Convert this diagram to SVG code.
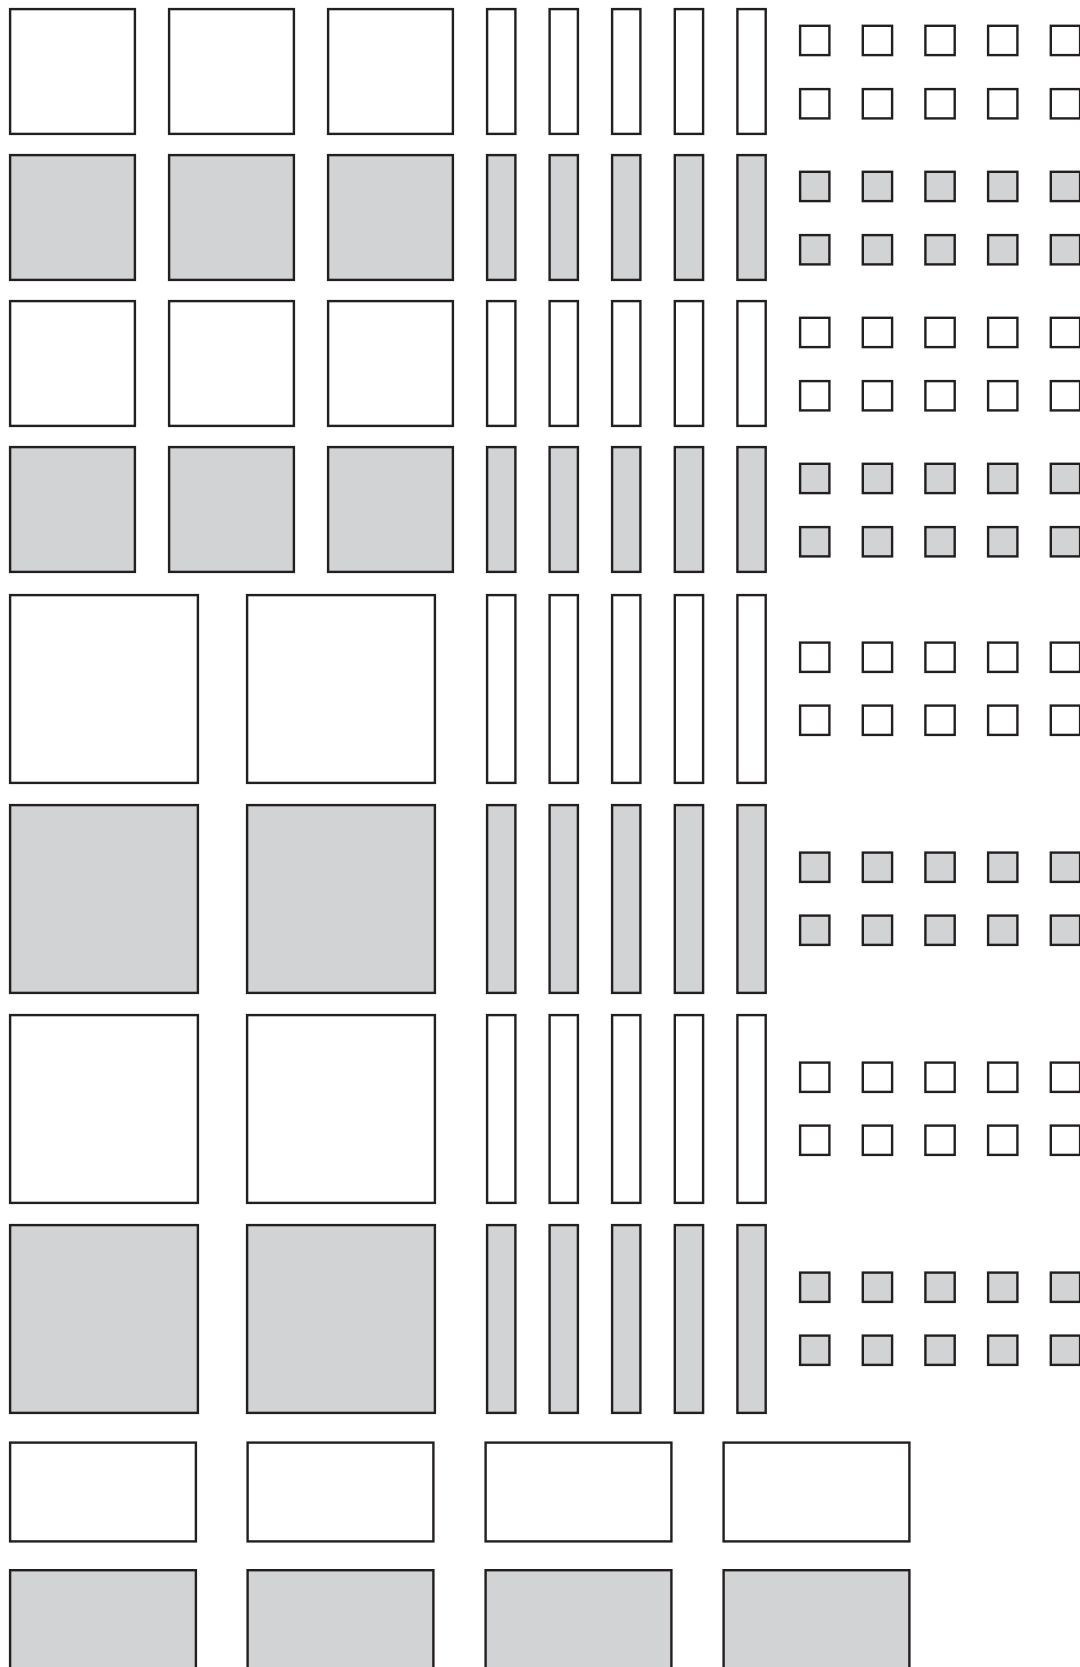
<svg xmlns="http://www.w3.org/2000/svg" width="1080" height="1667" viewBox="0 0 1080 1667">
<style>
.w rect,.g rect{stroke:#231f20;stroke-width:2.4}
.w{fill:#ffffff}
.g{fill:#d1d3d4}
</style>
<rect x="0" y="0" width="1080" height="1667" fill="#ffffff"/>
<g id="top-section">
<g id="row1" class="w">
<rect x="10.1" y="9.1" width="124.8" height="124.8"/><rect x="169.1" y="9.1" width="124.8" height="124.8"/><rect x="328.1" y="9.1" width="124.8" height="124.8"/>
<rect x="487.1" y="9.1" width="28.3" height="124.8"/><rect x="549.6" y="9.1" width="28.3" height="124.8"/><rect x="612.1" y="9.1" width="28.3" height="124.8"/><rect x="674.8" y="9.1" width="28.3" height="124.8"/><rect x="737.4" y="9.1" width="28.3" height="124.8"/>
<rect x="800.1" y="25.8" width="29.3" height="29.3"/><rect x="862.8" y="25.8" width="29.3" height="29.3"/><rect x="925.4" y="25.8" width="29.3" height="29.3"/><rect x="988.1" y="25.8" width="29.3" height="29.3"/><rect x="1050.8" y="25.8" width="29.3" height="29.3"/>
<rect x="800.1" y="89.1" width="29.3" height="29.3"/><rect x="862.8" y="89.1" width="29.3" height="29.3"/><rect x="925.4" y="89.1" width="29.3" height="29.3"/><rect x="988.1" y="89.1" width="29.3" height="29.3"/><rect x="1050.8" y="89.1" width="29.3" height="29.3"/>
</g>
<g id="row2" class="g">
<rect x="10.1" y="155.1" width="124.8" height="124.8"/><rect x="169.1" y="155.1" width="124.8" height="124.8"/><rect x="328.1" y="155.1" width="124.8" height="124.8"/>
<rect x="487.1" y="155.1" width="28.3" height="124.8"/><rect x="549.6" y="155.1" width="28.3" height="124.8"/><rect x="612.1" y="155.1" width="28.3" height="124.8"/><rect x="674.8" y="155.1" width="28.3" height="124.8"/><rect x="737.4" y="155.1" width="28.3" height="124.8"/>
<rect x="800.1" y="171.8" width="29.3" height="29.3"/><rect x="862.8" y="171.8" width="29.3" height="29.3"/><rect x="925.4" y="171.8" width="29.3" height="29.3"/><rect x="988.1" y="171.8" width="29.3" height="29.3"/><rect x="1050.8" y="171.8" width="29.3" height="29.3"/>
<rect x="800.1" y="235.1" width="29.3" height="29.3"/><rect x="862.8" y="235.1" width="29.3" height="29.3"/><rect x="925.4" y="235.1" width="29.3" height="29.3"/><rect x="988.1" y="235.1" width="29.3" height="29.3"/><rect x="1050.8" y="235.1" width="29.3" height="29.3"/>
</g>
<g id="row3" class="w">
<rect x="10.1" y="301.1" width="124.8" height="124.8"/><rect x="169.1" y="301.1" width="124.8" height="124.8"/><rect x="328.1" y="301.1" width="124.8" height="124.8"/>
<rect x="487.1" y="301.1" width="28.3" height="124.8"/><rect x="549.6" y="301.1" width="28.3" height="124.8"/><rect x="612.1" y="301.1" width="28.3" height="124.8"/><rect x="674.8" y="301.1" width="28.3" height="124.8"/><rect x="737.4" y="301.1" width="28.3" height="124.8"/>
<rect x="800.1" y="317.8" width="29.3" height="29.3"/><rect x="862.8" y="317.8" width="29.3" height="29.3"/><rect x="925.4" y="317.8" width="29.3" height="29.3"/><rect x="988.1" y="317.8" width="29.3" height="29.3"/><rect x="1050.8" y="317.8" width="29.3" height="29.3"/>
<rect x="800.1" y="381.1" width="29.3" height="29.3"/><rect x="862.8" y="381.1" width="29.3" height="29.3"/><rect x="925.4" y="381.1" width="29.3" height="29.3"/><rect x="988.1" y="381.1" width="29.3" height="29.3"/><rect x="1050.8" y="381.1" width="29.3" height="29.3"/>
</g>
<g id="row4" class="g">
<rect x="10.1" y="447.1" width="124.8" height="124.8"/><rect x="169.1" y="447.1" width="124.8" height="124.8"/><rect x="328.1" y="447.1" width="124.8" height="124.8"/>
<rect x="487.1" y="447.1" width="28.3" height="124.8"/><rect x="549.6" y="447.1" width="28.3" height="124.8"/><rect x="612.1" y="447.1" width="28.3" height="124.8"/><rect x="674.8" y="447.1" width="28.3" height="124.8"/><rect x="737.4" y="447.1" width="28.3" height="124.8"/>
<rect x="800.1" y="463.8" width="29.3" height="29.3"/><rect x="862.8" y="463.8" width="29.3" height="29.3"/><rect x="925.4" y="463.8" width="29.3" height="29.3"/><rect x="988.1" y="463.8" width="29.3" height="29.3"/><rect x="1050.8" y="463.8" width="29.3" height="29.3"/>
<rect x="800.1" y="527.1" width="29.3" height="29.3"/><rect x="862.8" y="527.1" width="29.3" height="29.3"/><rect x="925.4" y="527.1" width="29.3" height="29.3"/><rect x="988.1" y="527.1" width="29.3" height="29.3"/><rect x="1050.8" y="527.1" width="29.3" height="29.3"/>
</g>
</g>
<g id="big-section">
<g id="row5" class="w">
<rect x="10.1" y="595.1" width="187.8" height="187.8"/><rect x="247.1" y="595.1" width="187.8" height="187.8"/>
<rect x="487.1" y="595.1" width="28.3" height="187.8"/><rect x="549.6" y="595.1" width="28.3" height="187.8"/><rect x="612.1" y="595.1" width="28.3" height="187.8"/><rect x="674.8" y="595.1" width="28.3" height="187.8"/><rect x="737.4" y="595.1" width="28.3" height="187.8"/>
<rect x="800.1" y="642.6" width="29.3" height="29.3"/><rect x="862.8" y="642.6" width="29.3" height="29.3"/><rect x="925.4" y="642.6" width="29.3" height="29.3"/><rect x="988.1" y="642.6" width="29.3" height="29.3"/><rect x="1050.8" y="642.6" width="29.3" height="29.3"/>
<rect x="800.1" y="705.6" width="29.3" height="29.3"/><rect x="862.8" y="705.6" width="29.3" height="29.3"/><rect x="925.4" y="705.6" width="29.3" height="29.3"/><rect x="988.1" y="705.6" width="29.3" height="29.3"/><rect x="1050.8" y="705.6" width="29.3" height="29.3"/>
</g>
<g id="row6" class="g">
<rect x="10.1" y="805.1" width="187.8" height="187.8"/><rect x="247.1" y="805.1" width="187.8" height="187.8"/>
<rect x="487.1" y="805.1" width="28.3" height="187.8"/><rect x="549.6" y="805.1" width="28.3" height="187.8"/><rect x="612.1" y="805.1" width="28.3" height="187.8"/><rect x="674.8" y="805.1" width="28.3" height="187.8"/><rect x="737.4" y="805.1" width="28.3" height="187.8"/>
<rect x="800.1" y="852.6" width="29.3" height="29.3"/><rect x="862.8" y="852.6" width="29.3" height="29.3"/><rect x="925.4" y="852.6" width="29.3" height="29.3"/><rect x="988.1" y="852.6" width="29.3" height="29.3"/><rect x="1050.8" y="852.6" width="29.3" height="29.3"/>
<rect x="800.1" y="915.6" width="29.3" height="29.3"/><rect x="862.8" y="915.6" width="29.3" height="29.3"/><rect x="925.4" y="915.6" width="29.3" height="29.3"/><rect x="988.1" y="915.6" width="29.3" height="29.3"/><rect x="1050.8" y="915.6" width="29.3" height="29.3"/>
</g>
<g id="row7" class="w">
<rect x="10.1" y="1015.1" width="187.8" height="187.8"/><rect x="247.1" y="1015.1" width="187.8" height="187.8"/>
<rect x="487.1" y="1015.1" width="28.3" height="187.8"/><rect x="549.6" y="1015.1" width="28.3" height="187.8"/><rect x="612.1" y="1015.1" width="28.3" height="187.8"/><rect x="674.8" y="1015.1" width="28.3" height="187.8"/><rect x="737.4" y="1015.1" width="28.3" height="187.8"/>
<rect x="800.1" y="1062.6" width="29.3" height="29.3"/><rect x="862.8" y="1062.6" width="29.3" height="29.3"/><rect x="925.4" y="1062.6" width="29.3" height="29.3"/><rect x="988.1" y="1062.6" width="29.3" height="29.3"/><rect x="1050.8" y="1062.6" width="29.3" height="29.3"/>
<rect x="800.1" y="1125.6" width="29.3" height="29.3"/><rect x="862.8" y="1125.6" width="29.3" height="29.3"/><rect x="925.4" y="1125.6" width="29.3" height="29.3"/><rect x="988.1" y="1125.6" width="29.3" height="29.3"/><rect x="1050.8" y="1125.6" width="29.3" height="29.3"/>
</g>
<g id="row8" class="g">
<rect x="10.1" y="1225.1" width="187.8" height="187.8"/><rect x="247.1" y="1225.1" width="187.8" height="187.8"/>
<rect x="487.1" y="1225.1" width="28.3" height="187.8"/><rect x="549.6" y="1225.1" width="28.3" height="187.8"/><rect x="612.1" y="1225.1" width="28.3" height="187.8"/><rect x="674.8" y="1225.1" width="28.3" height="187.8"/><rect x="737.4" y="1225.1" width="28.3" height="187.8"/>
<rect x="800.1" y="1272.6" width="29.3" height="29.3"/><rect x="862.8" y="1272.6" width="29.3" height="29.3"/><rect x="925.4" y="1272.6" width="29.3" height="29.3"/><rect x="988.1" y="1272.6" width="29.3" height="29.3"/><rect x="1050.8" y="1272.6" width="29.3" height="29.3"/>
<rect x="800.1" y="1335.6" width="29.3" height="29.3"/><rect x="862.8" y="1335.6" width="29.3" height="29.3"/><rect x="925.4" y="1335.6" width="29.3" height="29.3"/><rect x="988.1" y="1335.6" width="29.3" height="29.3"/><rect x="1050.8" y="1335.6" width="29.3" height="29.3"/>
</g>
</g>
<g id="bottom-section">
<g id="row9" class="w">
<rect x="10.1" y="1442.6" width="185.8" height="98.8"/><rect x="247.6" y="1442.6" width="185.8" height="98.8"/><rect x="485.6" y="1442.6" width="185.8" height="98.8"/><rect x="723.6" y="1442.6" width="185.8" height="98.8"/>
</g>
<g id="row10" class="g">
<rect x="10.1" y="1570.2" width="185.8" height="120"/><rect x="247.6" y="1570.2" width="185.8" height="120"/><rect x="485.6" y="1570.2" width="185.8" height="120"/><rect x="723.6" y="1570.2" width="185.8" height="120"/>
</g>
</g>
<g id="connectors"/>
</svg>
